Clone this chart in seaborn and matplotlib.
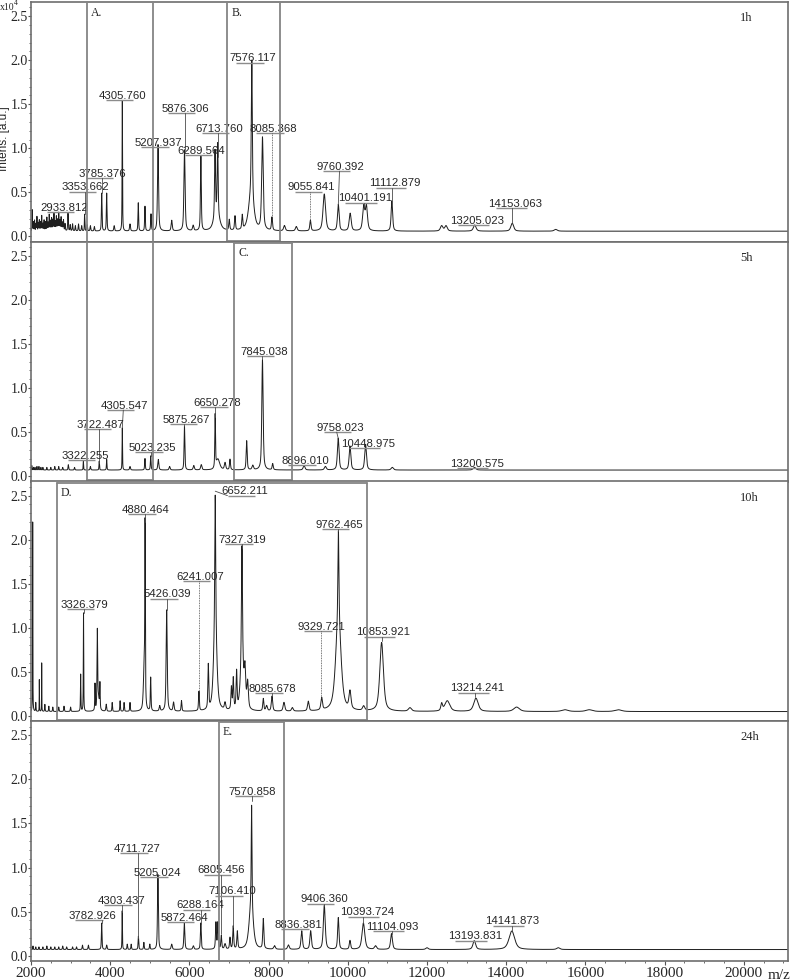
import numpy as np
import pandas as pd
import matplotlib
matplotlib.use("Agg")
import matplotlib.pyplot as plt
import seaborn as sns
from matplotlib.ticker import MultipleLocator, FormatStrFormatter
from matplotlib.transforms import offset_copy

sns.set_theme(style="white")
plt.rcParams['font.family'] = ['Liberation Serif', 'DejaVu Serif']
SANS = ['Liberation Sans', 'DejaVu Sans']

panel_names = ["1h", "5h", "10h", "24h"]
baselines = [0.06, 0.07, 0.05, 0.07]

# ---------------- peaks (m/z, intensity x10^4, relative half width per mille)
p1_mz = [2030, 2060, 2090, 2125, 2150, 2185, 2210, 2240, 2270, 2300, 2330, 2365, 2400, 2430,
         2460, 2490, 2520, 2550, 2580, 2610, 2640, 2670, 2700, 2730, 2760, 2790, 2820, 2860,
         2933.8, 2990, 3050, 3120, 3200, 3280, 3353.7, 3420, 3500, 3600, 3785.4, 3911, 4100,
         4305.8, 4500, 4709, 4878, 5030, 5207.9, 5553, 5876.3, 6095, 6289.6, 6646, 6713.8,
         6690, 7007, 7151, 7335, 7576.1, 7560, 7845, 8085.4, 8400, 8700, 9055.8, 9406, 9760.4,
         10060, 10401, 10470, 11112.9, 12370, 12480, 13205, 14153, 15250]
p1_h = [0.24, 0.10, 0.12, 0.08, 0.16, 0.09, 0.12, 0.10, 0.17, 0.08, 0.12, 0.10, 0.15, 0.09,
        0.18, 0.11, 0.14, 0.12, 0.19, 0.10, 0.16, 0.12, 0.20, 0.11, 0.15, 0.09, 0.12, 0.08,
        0.20, 0.07, 0.08, 0.06, 0.08, 0.06, 0.19, 0.07, 0.06, 0.05, 0.43, 0.43, 0.06,
        1.48, 0.08, 0.32, 0.28, 0.19, 0.98, 0.12, 0.92, 0.06, 0.85, 0.75, 0.80,
        0.20, 0.12, 0.16, 0.16, 1.55, 0.40, 1.05, 0.15, 0.06, 0.05, 0.12, 0.42, 0.30,
        0.20, 0.27, 0.27, 0.34, 0.06, 0.06, 0.07, 0.09, 0.02]
p1_w = [3, 3, 3, 3, 3, 3, 3, 3, 3, 3, 3, 3, 3, 3,
        3, 3, 3, 3, 3, 3, 3, 3, 3, 3, 3, 3, 3, 3,
        3, 3, 3, 3, 3, 3, 2, 3, 3, 3, 2.5, 2.5, 3,
        1.5, 3, 2, 2, 2, 3, 3, 3, 3, 2, 2, 2,
        12, 2, 2, 2, 2, 10, 3, 2, 3, 3, 2, 4, 2.5,
        3, 3, 3, 2, 3, 3, 3, 3, 3]

p2_mz = [2020, 2060, 2100, 2150, 2200, 2250, 2300, 2400, 2500, 2600, 2700, 2800, 2942, 3100,
         3322.3, 3500, 3722.5, 3911, 4305.5, 4500, 4878, 5023.2, 5215, 5500, 5875.3, 6110,
         6300, 6650.3, 6720, 6900, 7025, 7446, 7600, 7845, 8103, 8896, 9434, 9758, 10055,
         10449, 11123, 13200.6]
p2_h = [0.05, 0.03, 0.03, 0.04, 0.04, 0.03, 0.03, 0.03, 0.03, 0.04, 0.04, 0.03, 0.06, 0.03,
        0.10, 0.04, 0.10, 0.12, 0.48, 0.04, 0.13, 0.16, 0.12, 0.04, 0.50, 0.05,
        0.06, 0.60, 0.12, 0.08, 0.12, 0.33, 0.05, 1.25, 0.07, 0.05, 0.04, 0.36, 0.27,
        0.29, 0.03, 0.03]
p2_w = [3, 3, 3, 3, 3, 3, 3, 3, 3, 3, 3, 3, 3, 3,
        2, 3, 2, 2, 1.5, 3, 2, 2, 3, 3, 2, 3,
        3, 1.5, 8, 3, 2, 2, 3, 2.5, 2, 3, 3, 2.5, 2.5,
        2.5, 3, 3]

p3_mz = [2043, 2120, 2210, 2270, 2350, 2450, 2550, 2700, 2833, 3000, 3254, 3326.4, 3616,
         3675, 3700, 3740, 3900, 4050, 4250, 4350, 4500, 4880.5, 4860, 5022, 5250, 5426,
         5600, 5800, 6241, 6477, 6652.2, 6652, 6900, 7060, 7108, 7192, 7327.3, 7327, 7403,
         7470, 7866, 7950, 8085.7, 8388, 8600, 9002, 9340, 9762.5, 9762, 10055, 10400,
         10853.9, 11570, 12370, 12512, 13236, 14263, 15483, 16097, 16830]
p3_h = [2.15, 0.10, 0.36, 0.55, 0.08, 0.06, 0.05, 0.05, 0.06, 0.05, 0.42, 1.12, 0.30,
        0.85, 0.15, 0.28, 0.08, 0.10, 0.12, 0.10, 0.10, 1.90, 0.50, 0.38, 0.06, 1.15,
        0.10, 0.12, 0.22, 0.50, 1.45, 1.00, 0.08, 0.25, 0.35, 0.42, 1.25, 0.60, 0.40,
        0.30, 0.14, 0.06, 0.17, 0.10, 0.04, 0.11, 0.14, 1.00, 1.05, 0.20, 0.05,
        0.78, 0.04, 0.08, 0.12, 0.15, 0.05, 0.02, 0.02, 0.02]
p3_w = [2, 3, 1.5, 1.5, 3, 3, 3, 3, 3, 3, 2, 1.8, 2,
        2.5, 8, 2, 3, 2, 2, 2, 2, 1.5, 5, 2, 3, 3,
        3, 2, 2, 2, 2, 7, 3, 2, 2, 2, 2, 6, 3,
        3, 2, 3, 2.5, 3, 3, 2.5, 2.5, 1.5, 8, 3, 3,
        5, 4, 2, 6, 5, 6, 6, 6, 6]

p4_mz = [2050, 2120, 2200, 2300, 2400, 2500, 2600, 2700, 2800, 2900, 3050, 3150, 3300, 3450,
         3785, 3911, 4303.4, 4430, 4530, 4711.7, 4850, 5000, 5205, 5553, 5872.5, 6100, 6288.2,
         6670, 6720, 6805.5, 6900, 7025, 7106.4, 7210, 7570.9, 7560, 7866, 8150, 8500, 8836.4,
         9062, 9406.4, 9760, 10055, 10393.7, 10700, 11104.1, 12000, 13193.8, 14141.9, 15315]
p4_h = [0.04, 0.03, 0.03, 0.03, 0.04, 0.03, 0.03, 0.03, 0.04, 0.03, 0.03, 0.03, 0.05, 0.05,
        0.30, 0.05, 0.44, 0.06, 0.06, 0.15, 0.08, 0.06, 0.85, 0.06, 0.30, 0.04, 0.30,
        0.30, 0.30, 0.15, 0.06, 0.13, 0.26, 0.20, 1.15, 0.50, 0.34, 0.04, 0.05, 0.21,
        0.21, 0.50, 0.36, 0.10, 0.30, 0.04, 0.18, 0.02, 0.10, 0.21, 0.02]
p4_w = [3, 3, 3, 3, 3, 3, 3, 3, 3, 3, 3, 3, 3, 3,
        2.5, 3, 1.5, 2, 2, 2, 2, 2, 2.5, 3, 2.5, 3, 2,
        2, 2, 2, 3, 2, 2, 2, 1.5, 8, 2, 3, 3, 2.5,
        2.5, 3, 2, 2, 4, 3, 2.5, 3, 3, 6, 3]

# ---------------- peak labels: value, text centre, label height, peak top, leader start x, dotted
l1_val = [2933.812, 3353.662, 3785.376, 4305.760, 5207.937, 5876.306, 6289.564, 6713.760,
          7576.117, 8085.368, 9055.841, 9760.392, 10401.191, 11112.879, 13205.023, 14153.063]
l1_x = [2833, 3381, 3810, 4323, 5215, 5889, 6310, 6747, 7613, 8118, 9087, 9802, 10433, 11191,
        13270, 14221]
l1_y = [0.276, 0.51, 0.66, 1.545, 1.01, 1.40, 0.92, 1.17, 1.97, 1.17, 0.51, 0.74, 0.38, 0.55,
        0.125, 0.32]
l1_end = [0.27, 0.25, 0.49, 1.54, 1.0, 0.98, 0.91, 0.90, 1.97, 0.20, 0.17, 0.36, 0.33, 0.40,
          0.12, 0.15]
l1_lx = [None] * 11 + [9790] + [None] * 4
l1_dot = [0, 0, 0, 0, 0, 0, 0, 0, 0, 1, 1, 0, 0, 0, 0, 0]

l2_val = [3322.255, 3722.487, 4305.547, 5023.235, 5875.267, 6650.278, 7845.038, 8896.010,
          9758.023, 10448.975, 13200.575]
l2_x = [3364, 3760, 4348, 5063, 5931, 6705, 7883, 8936, 9820, 10517, 13253]
l2_y = [0.18, 0.53, 0.75, 0.27, 0.59, 0.78, 1.36, 0.125, 0.50, 0.32, 0.09]
l2_end = [0.17, 0.15, 0.55, 0.23, 0.57, 0.67, 1.33, 0.11, 0.43, 0.32, 0.08]
l2_lx = [None, None, 4331, None, None, None, None, None, 9720, None, None]
l2_dot = [0] * 11

l3_val = [3326.379, 4880.464, 5426.039, 6241.007, 6652.211, 7327.319, 8085.678, 9329.721,
          9762.465, 10853.921, 13214.241]
l3_x = [3338, 4896, 5442, 6267, 7404, 7336, 8093, 9340, 9777, 10896, 13270]
l3_y = [1.21, 2.29, 1.33, 1.53, 2.50, 1.95, 0.26, 0.96, 2.12, 0.90, 0.265]
l3_end = [1.17, 2.20, 1.20, 0.28, 2.55, 1.90, 0.23, 0.20, 2.10, 0.85, 0.21]
l3_lx = [None, None, None, None, 6960, None, None, None, None, None, None]
l3_dot = [0, 0, 0, 1, 0, 0, 0, 1, 0, 0, 0]

l4_val = [3782.926, 4303.437, 4711.727, 5205.024, 5872.464, 6288.164, 6805.456, 7106.410,
          7570.858, 8836.381, 9406.360, 10393.724, 11104.093, 13193.831, 14141.873]
l4_x = [3548, 4290, 4684, 5190, 5863, 6267, 6790, 7083, 7588, 8750, 9398, 10492, 11123,
        13211, 14153]
l4_y = [0.40, 0.57, 1.16, 0.89, 0.38, 0.52, 0.92, 0.68, 1.81, 0.30, 0.59, 0.44, 0.28, 0.17,
        0.34]
l4_end = [0.37, 0.50, 0.20, 0.88, 0.37, 0.36, 0.25, 0.33, 1.75, 0.28, 0.56, 0.37, 0.25, 0.16,
          0.28]
l4_lx = [None] * 15
l4_dot = [0] * 15

# ---------------- highlighted regions
box_names = ["A.", "B.", "C.", "D.", "E."]
box_lo = [3422, 6957, 7134, 2648, 6739]
box_hi = [5089, 8287, 8582, 10476, 8396]
box_first = [0, 0, 1, 2, 3]
box_last = [1, 0, 1, 2, 3]

# ---------------- tick values
xticks = [2000, 4000, 6000, 8000, 10000, 12000, 14000, 16000, 18000, 20000]
yticks = [0.0, 0.5, 1.0, 1.5, 2.0, 2.5]

peaks = [(p1_mz, p1_h, p1_w), (p2_mz, p2_h, p2_w), (p3_mz, p3_h, p3_w), (p4_mz, p4_h, p4_w)]
labels = [(l1_val, l1_x, l1_y, l1_end, l1_lx, l1_dot),
          (l2_val, l2_x, l2_y, l2_end, l2_lx, l2_dot),
          (l3_val, l3_x, l3_y, l3_end, l3_lx, l3_dot),
          (l4_val, l4_x, l4_y, l4_end, l4_lx, l4_dot)]

XMIN, XMAX = 2000, 21116
YMIN, YMAX = -0.06, 2.66
mz_axis = np.arange(XMIN, XMAX + 1, 1.0)


def spectrum(mzs, hs, ws, base):
    y = np.full_like(mz_axis, base)
    for m, h, w in zip(mzs, hs, ws):
        hw = w * m / 1000.0
        u = (mz_axis - m) / hw
        y += h * (0.6 / (1 + u ** 2) + 0.4 * np.exp(-np.log(2) * u ** 2))
    return y


W, H = 790, 980
fig = plt.figure(figsize=(W / 100, H / 100), dpi=100)
left, right = 31 / W, 788 / W
top_px, bot_px = 2, 961
ph = (bot_px - top_px) / 4
axes = []
for i in range(4):
    y0 = 1 - (top_px + (i + 1) * ph) / H
    ax = fig.add_axes([left, y0, right - left, ph / H])
    axes.append(ax)

spine_col = '#6e6e6e'
for i, ax in enumerate(axes):
    mzs, hs, ws = peaks[i]
    df = pd.DataFrame({"mz": mz_axis, "intensity": spectrum(mzs, hs, ws, baselines[i])})
    sns.lineplot(data=df, x="mz", y="intensity", ax=ax, color='#1e1e1e', linewidth=0.7,
                 estimator=None, sort=False, legend=False)
    ax.set_xlim(XMIN, XMAX)
    ax.set_ylim(YMIN, YMAX)
    ax.set_xlabel("")
    ax.set_ylabel("")
    ax.set_yticks(yticks)
    ax.yaxis.set_major_formatter(FormatStrFormatter('%.1f'))
    ax.yaxis.set_minor_locator(MultipleLocator(0.1))
    ax.set_xticks(xticks)
    ax.xaxis.set_minor_locator(MultipleLocator(500))
    for s in ax.spines.values():
        s.set_color(spine_col)
        s.set_linewidth(1.2)
    ax.tick_params(axis='y', which='major', direction='out', length=2.0, width=0.8,
                   color='#555555', pad=0.3, labelsize=10, left=True)
    ax.tick_params(axis='y', which='minor', direction='out', length=1.5, width=0.6,
                   color='#555555', left=True)
    if i < 3:
        ax.tick_params(axis='x', which='both', bottom=False, labelbottom=False)
    else:
        ax.tick_params(axis='x', which='major', direction='out', length=3, width=0.8,
                       color='#555555', pad=1, labelsize=11, bottom=True)
        ax.tick_params(axis='x', which='minor', direction='out', length=1.5, width=0.6,
                       color='#555555', bottom=True)
    ax.text(0.937, 0.933, panel_names[i], transform=ax.transAxes, ha='left', va='center',
            fontsize=9)

# peak labels
text_objs = []
for i, ax in enumerate(axes):
    vals, xs, ys, ends, lxs, dots = labels[i]
    tr = offset_copy(ax.transData, fig=fig, x=0, y=1.5, units='dots')
    for v, cx, ly, ey, lx, dt in zip(vals, xs, ys, ends, lxs, dots):
        t = ax.text(cx, ly, f"{v:.3f}", ha='center', va='baseline', fontsize=8.2,
                    family=SANS, transform=tr, zorder=5)
        text_objs.append((ax, t, v, cx, ly, ey, lx, dt))

fig.canvas.draw()
renderer = fig.canvas.get_renderer()
for ax, t, v, cx, ly, ey, lx, dt in text_objs:
    bb = t.get_window_extent(renderer)
    inv = ax.transData.inverted()
    x0 = inv.transform((bb.x0, 0))[0]
    x1 = inv.transform((bb.x1, 0))[0]
    w = x1 - x0
    ax.plot([x0 + 0.14 * w, x1 - 0.28 * w], [ly, ly], color='#8c8c8c', lw=1.0,
            solid_capstyle='butt', zorder=4)
    sx = v if lx is None else lx
    if ly - ey > 0.02 or lx is not None:
        ax.plot([sx, v], [ly, ey], color='#4a4a4a', lw=0.6,
                linestyle=(0, (1, 1)) if dt else '-', zorder=4)

# highlighted boxes
box_col = '#858585'
for name, lo, hi, f, l in zip(box_names, box_lo, box_hi, box_first, box_last):
    for p in range(f, l + 1):
        ax = axes[p]
        yt = YMAX - (0.012 if p == f and p > 0 else 0.0)
        yb = YMIN + (0.012 if p == l and p < 3 else 0.0)
        if p != l:
            yb = YMIN
        if p != f:
            yt = YMAX
        ax.plot([lo, lo], [yb, yt], color=box_col, lw=1.3, clip_on=False, zorder=6)
        ax.plot([hi, hi], [yb, yt], color=box_col, lw=1.3, clip_on=False, zorder=6)
        if p == f:
            ax.plot([lo, hi], [yt, yt], color=box_col, lw=1.3, clip_on=False, zorder=6)
        if p == l:
            ax.plot([lo, hi], [yb, yb], color=box_col, lw=1.3, clip_on=False, zorder=6)
    axf = axes[f]
    trb = offset_copy(axf.transData, fig=fig, x=4, y=-5, units='dots')
    axf.text(lo, YMAX, name, transform=trb, ha='left', va='top', fontsize=8.5, zorder=7)

# axis annotations
fig.text(4.5 / W, 1 - 139 / H, "Intens. [a.u.]", rotation=90, ha='center', va='center',
         fontsize=8.5, family=SANS)
fig.text(0.0, 1 - 10 / H, "x10", ha='left', va='baseline', fontsize=7)
fig.text(14 / W, 1 - 5 / H, "4", ha='left', va='baseline', fontsize=5.5)
fig.text(779 / W, 1 - 975 / H, "m/z", ha='center', va='center', fontsize=11)

fig.savefig("out.png", dpi=100)
